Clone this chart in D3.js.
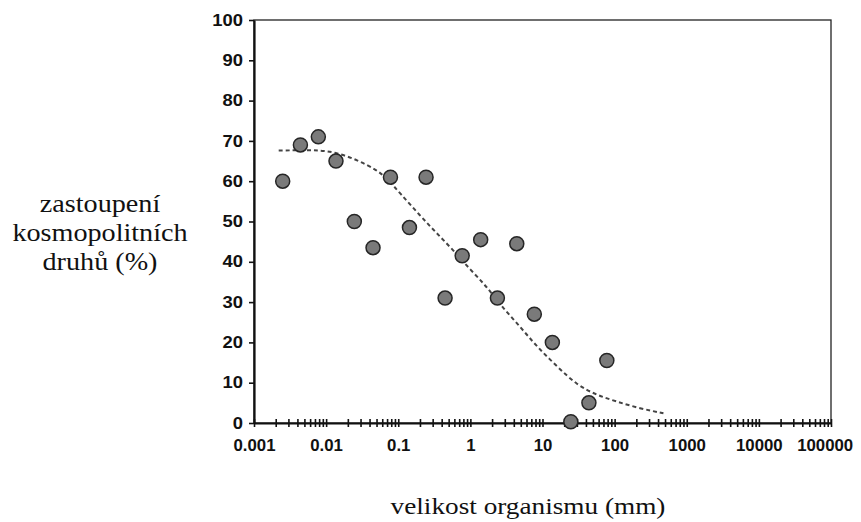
<!DOCTYPE html>
<html>
<head>
<meta charset="utf-8">
<script src="https://cdn.jsdelivr.net/npm/d3@7"></script>
<style>
  body { margin: 0; background: #fff; }
  .tick text { font-family: "Liberation Sans", Arial, sans-serif; font-weight: bold; font-size: 16px; fill: #111; }
</style>
</head>
<body>
<div id="chart"></div>
<script>
/* Kosmopolitní druhy vs. velikost organismu */

// measured points
const sizes = [0.0025, 0.0044, 0.0078, 0.0137, 0.0246, 0.0447, 0.078, 0.143, 0.243, 0.446,
  0.77, 1.39, 2.37, 4.4, 7.7, 13.7, 24.7, 44, 78];
const shares = [60, 69, 71, 65, 50, 43.5, 61, 48.5, 61, 31,
  41.5, 45.5, 31, 44.5, 27, 20, 0.3, 5, 15.5];

// dashed trend line
const trendSizes = [0.0022, 0.0044, 0.0082, 0.014, 0.027, 0.05, 0.069, 0.106, 0.2, 0.34,
  0.58, 1.0, 1.7, 2.6, 4.9, 8.3, 16, 30, 57, 107, 226, 475];
const trendShares = [67.6, 67.7, 67.7, 67.1, 65.3, 62.8, 60.8, 57, 51.5, 47.1,
  42.9, 38.0, 33.8, 29.3, 23.9, 19.0, 14.0, 9.4, 6.9, 5.3, 3.6, 2.4];

const xTickValues = [0.001, 0.01, 0.1, 1, 10, 100, 1000, 10000, 100000];
const xTickLabels = ['0.001', '0.01', '0.1', '1', '10', '100', '1000', '10000', '100000'];
const yTickValues = [0, 10, 20, 30, 40, 50, 60, 70, 80, 90, 100];

const yTitle = ['zastoupení', 'kosmopolitních', 'druhů (%)'];
const xTitle = 'velikost organismu (mm)';

const W = 861, H = 522;
const plotL = 254, plotR = 831, plotT = 20, plotB = 423;
const stretch = 1.15; // text in the picture is a bit wide
const serif = '"Liberation Serif", "Times New Roman", "DejaVu Serif", serif';

function drawChart() {
  const svg = d3.select('#chart').append('svg')
    .attr('width', W).attr('height', H);

  const x = d3.scaleLog().domain([0.001, 100000]).range([plotL, plotR]);
  const y = d3.scaleLinear().domain([0, 100]).range([plotB, plotT]);

  // frame (top + right)
  svg.append('rect')
    .attr('x', plotL).attr('y', plotT)
    .attr('width', plotR - plotL).attr('height', plotB - plotT)
    .attr('fill', 'none').attr('stroke', '#222').attr('stroke-width', 1.3);

  // x axis: every 1..9 multiple gets a tick, decades get a label
  const xAxis = d3.axisBottom(x)
    .tickValues(x.ticks())
    .tickSize(4).tickSizeOuter(0)
    .tickFormat(d => {
      const i = xTickValues.findIndex(v => Math.abs(v - d) / v < 1e-6);
      return i >= 0 ? xTickLabels[i] : '';
    });
  const gx = svg.append('g').attr('transform', `translate(0,${plotB})`).call(xAxis);
  gx.select('.domain').attr('stroke', '#111').attr('stroke-width', 2);
  gx.selectAll('.tick line').attr('y1', -4).attr('y2', 4).attr('stroke', '#111').attr('stroke-width', 1.6);
  gx.selectAll('.tick text').attr('y', 17)
    .attr('x', d => (d === 100000 ? -6 : 0))
    .attr('transform', 'scale(1.05,1)');

  // y axis
  const yAxis = d3.axisLeft(y).tickValues(yTickValues).tickSize(5).tickSizeOuter(0);
  const gy = svg.append('g').attr('transform', `translate(${plotL},0)`).call(yAxis);
  gy.select('.domain').attr('stroke', '#111').attr('stroke-width', 2.2);
  gy.selectAll('.tick line').attr('stroke', '#111').attr('stroke-width', 1.6);
  gy.selectAll('.tick text').attr('x', -11 / stretch).attr('transform', `scale(${stretch},1)`);

  // trend
  const trend = trendSizes.map((s, i) => [s, trendShares[i]]);
  svg.append('path')
    .datum(trend)
    .attr('fill', 'none')
    .attr('stroke', '#444')
    .attr('stroke-width', 2)
    .attr('stroke-dasharray', '4,3')
    .attr('d', d3.line().x(d => x(d[0])).y(d => y(d[1])).curve(d3.curveBasis));

  // points
  svg.append('g').selectAll('circle')
    .data(sizes.map((s, i) => ({ size: s, share: shares[i] })))
    .join('circle')
    .attr('cx', d => x(d.size))
    .attr('cy', d => y(d.share))
    .attr('r', 7)
    .attr('fill', '#7a7a7a')
    .attr('stroke', '#262626')
    .attr('stroke-width', 1.5);

  // titles
  const yt = svg.append('text')
    .attr('font-family', serif).attr('fill', '#111')
    .attr('font-size', 24.5).attr('text-anchor', 'middle')
    .attr('transform', `translate(100,0) scale(${stretch},1)`);
  yt.selectAll('tspan').data(yTitle).join('tspan')
    .attr('x', 0).attr('y', (d, i) => 212 + i * 29)
    .text(d => d);

  svg.append('text')
    .attr('font-family', serif).attr('fill', '#111')
    .attr('font-size', 23.7).attr('text-anchor', 'middle')
    .attr('transform', `translate(528,514) scale(${stretch},1)`)
    .text(xTitle);
}

document.addEventListener('DOMContentLoaded', drawChart);
</script>
</body>
</html>
